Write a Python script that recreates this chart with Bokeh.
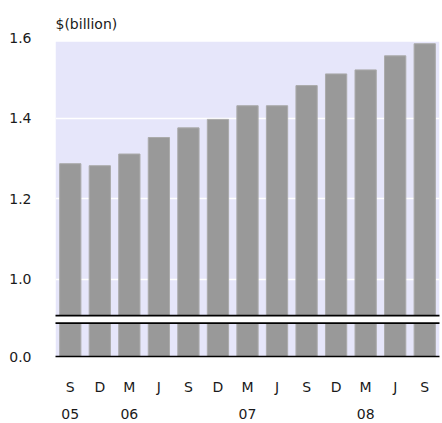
from bokeh.plotting import figure
from bokeh.models import (FixedTicker, LinearAxis, BoxAnnotation, Range1d, ColumnDataSource)
from bokeh.embed import file_html
from bokeh.resources import INLINE

# ---- data ----
periods = ["Sep 05", "Dec 05", "Mar 06", "Jun 06", "Sep 06", "Dec 06", "Mar 07",
           "Jun 07", "Sep 07", "Dec 07", "Mar 08", "Jun 08", "Sep 08"]
month_labels = ["S", "D", "M", "J", "S", "D", "M", "J", "S", "D", "M", "J", "S"]
year_labels = ["05", "", "06", "", "", "", "07", "", "", "", "08", "", ""]
values = [1.287, 1.282, 1.311, 1.352, 1.376, 1.397, 1.431, 1.431, 1.481,
          1.510, 1.520, 1.555, 1.585]
y_ticks = [0.808, 1.0, 1.2, 1.4, 1.6]
y_tick_labels = ["0.0", "1.0", "1.2", "1.4", "1.6"]
title_text = "$(billion)"

# ---- style constants ----
BASE = 0.808          # axis value drawn where "0.0" sits (broken axis)
BREAK_LO, BREAK_HI = 0.8907, 0.9098
FONT = "DejaVu Sans"
FS = "14px"
TXT = "#1a1a1a"

idx = list(range(len(periods)))
src = ColumnDataSource(dict(x=idx, period=periods, value=values))

p = figure(x_range=Range1d(-0.5, len(periods) - 0.5), y_range=Range1d(BASE, 1.6005),
           width=442, height=423, output_backend="svg", toolbar_location=None,
           min_border_left=55, min_border_right=3, min_border_top=37,
           min_border_bottom=67)
p.background_fill_color = "white"
p.border_fill_color = "white"
p.outline_line_color = None

# lavender plot area (stops just under 1.6)
p.add_layout(BoxAnnotation(bottom=BASE, top=1.59, fill_color="#e6e6fa", fill_alpha=1,
                           line_color=None, level="image"))

p.xgrid.visible = False
p.ygrid.ticker = FixedTicker(ticks=y_ticks)
p.ygrid.grid_line_color = "white"
p.ygrid.grid_line_width = 1.5

p.vbar(x="x", top="value", bottom=BASE, width=0.72, source=src,
       fill_color="#999999", line_color="#ababab", line_width=1)

# axis break
BL, BR = -1.52, len(periods) - 0.3
p.add_layout(BoxAnnotation(bottom=BREAK_LO, top=BREAK_HI, left=BL, right=BR,
                           fill_color="white", fill_alpha=1, line_color=None))
for yb in (BREAK_LO, BREAK_HI):
    p.add_layout(BoxAnnotation(bottom=yb - 0.0022, top=yb + 0.0022, left=BL, right=BR,
                               fill_color="black", fill_alpha=1, line_color=None))

# y axis
p.yaxis.ticker = FixedTicker(ticks=y_ticks)
p.yaxis.major_label_overrides = dict(zip(y_ticks, y_tick_labels))
p.yaxis.axis_line_color = None
p.yaxis.major_tick_line_color = None
p.yaxis.minor_tick_line_color = None
p.yaxis.major_label_standoff = 18
p.yaxis.major_label_text_font = FONT
p.yaxis.major_label_text_font_size = FS
p.yaxis.major_label_text_color = TXT

# month axis
xa = p.xaxis[0]
xa.ticker = FixedTicker(ticks=idx)
xa.major_label_overrides = dict(zip(idx, month_labels))
xa.axis_line_color = "black"
xa.axis_line_width = 1.5
xa.major_tick_line_color = None
xa.minor_tick_line_color = None
xa.major_label_standoff = 16
xa.major_label_text_font = FONT
xa.major_label_text_font_size = FS
xa.major_label_text_color = TXT

# year axis
ya = LinearAxis(ticker=FixedTicker(ticks=idx),
                major_label_overrides=dict(zip(idx, year_labels)),
                axis_line_color=None, major_tick_line_color=None,
                minor_tick_line_color=None,
                major_label_standoff=5, major_label_text_font=FONT,
                major_label_text_font_size=FS, major_label_text_color=TXT)
p.add_layout(ya, "below")

# title
p.title.text = title_text
p.title.align = "left"
p.title.text_font = FONT
p.title.text_font_size = FS
p.title.text_font_style = "normal"
p.title.text_color = TXT
p.title.standoff = 11

open("out.html", "w").write(file_html(p, INLINE))
